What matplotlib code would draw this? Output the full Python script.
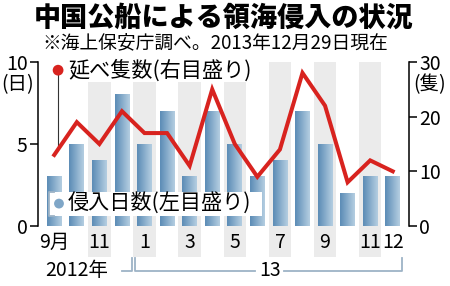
import numpy as np
import matplotlib
matplotlib.use('Agg')
import matplotlib.pyplot as plt
import matplotlib.transforms as mtransforms
from matplotlib.colors import LinearSegmentedColormap
from matplotlib.patches import Rectangle

plt.rcParams['font.family'] = ['Noto Sans CJK JP', 'DejaVu Sans']

# data (Sep 2012 - Dec 2013)
months = list(range(16))
days = [3, 5, 4, 8, 5, 7, 3, 7, 5, 3, 4, 7, 5, 2, 3, 3]          # 侵入日数 (left)
ships = [13, 19, 15, 21, 17, 17, 11, 25, 15, 9, 14, 28, 22, 8, 12, 10]  # 延べ隻数 (right)
tick_pos = [0, 2, 4, 6, 8, 10, 12, 14, 15]
tick_labels = ['9月', '11', '1', '3', '5', '7', '9', '11', '12']
band_pos = [2, 4, 6, 8, 10, 12, 14]

red = '#d8231f'
bracket_col = '#9db3c6'
lbl = 14

fig = plt.figure(figsize=(4.5, 2.86), dpi=100)
ax = fig.add_axes([38 / 450, 60 / 286, 371 / 450, 164 / 286])
ax2 = ax.twinx()

trans = mtransforms.blended_transform_factory(ax.transData, ax.transAxes)

# grey bands behind odd months
for b in band_pos:
    ax.add_patch(Rectangle((b - 0.5, -0.19), 1.0, 1.19, transform=trans,
                           facecolor='#ebebeb', edgecolor='none', zorder=0, clip_on=False))

# bars with horizontal gradient
cmap = LinearSegmentedColormap.from_list('bar', ['#5c8cb6', '#b4cee1'])
grad = np.linspace(0, 1, 50).reshape(1, -1)
w = 0.65
for m, d in zip(months, days):
    ax.imshow(grad, cmap=cmap, aspect='auto', extent=(m - w / 2, m + w / 2, 0, d),
              zorder=2, interpolation='bicubic')

ax.set_xlim(-0.72, 15.72)
ax.set_ylim(0, 10)
ax.set_yticks([0, 5, 10])
ax.set_xticks(tick_pos)
ax.set_xticklabels(tick_labels)
ax.tick_params(axis='x', length=0, pad=4, labelsize=lbl)
ax.tick_params(axis='y', direction='out', length=6, width=1.1, pad=1.5, labelsize=lbl)
for s in ['top', 'right', 'bottom']:
    ax.spines[s].set_visible(False)
ax.spines['left'].set_linewidth(1.1)

# red line on right axis
ax2.plot(months, ships, color=red, lw=2.9, zorder=3, solid_joinstyle='miter')
ax2.set_ylim(0, 30)
ax2.set_yticks([0, 10, 20, 30])
ax2.tick_params(axis='y', direction='out', length=6, width=1.1, pad=1.5, labelsize=lbl)
for s in ['top', 'left', 'bottom']:
    ax2.spines[s].set_visible(False)
ax2.spines['right'].set_linewidth(1.1)

# unit labels
fig.text(18 / 450, 1 - 85 / 286, '(日)', ha='center', va='center', fontsize=lbl)
fig.text(430 / 450, 1 - 85 / 286, '(隻)', ha='center', va='center', fontsize=lbl)

# red legend
ax2.plot([0.17, 0.17], [28.5, 14.0], color='#333333', lw=0.8, zorder=2)
ax2.scatter([0.17], [28.5], s=60, color=red, zorder=4, edgecolors='none')
ax2.text(0.6, 28.5, '延べ隻数(右目盛り)', va='center', ha='left', fontsize=15.2, zorder=4,
         bbox=dict(facecolor='white', edgecolor='none', pad=0.5))

# blue legend box
ax2.add_patch(Rectangle((-0.23, 1.83), 9.45, 4.4, facecolor='white', edgecolor='none', zorder=1))
ax2.plot([0.0, -0.23, -0.23, 0.0], [6.2, 6.2, 1.83, 1.83], color=bracket_col, lw=1.3, zorder=1.5)
ax2.scatter([0.21], [4.1], s=50, color='#7fa6c7', zorder=4, edgecolors='none')
ax2.text(0.6, 4.0, '侵入日数(左目盛り)', va='center', ha='left', fontsize=15.2, zorder=4)

# year labels and brackets
ax.text(1.0, -0.274, '2012年', transform=trans, ha='center', va='center', fontsize=lbl, clip_on=False)
ax.text(9.56, -0.274, '13', transform=trans, ha='center', va='center', fontsize=lbl, clip_on=False)
ax.plot([3.0, 3.44, 3.44], [-0.274, -0.274, -0.195], transform=trans, color=bracket_col,
        lw=1.3, clip_on=False)
ax.plot([3.58, 3.58, 8.9], [-0.195, -0.274, -0.274], transform=trans, color=bracket_col,
        lw=1.3, clip_on=False)
ax.plot([10.2, 15.41, 15.41], [-0.274, -0.274, -0.195], transform=trans, color=bracket_col,
        lw=1.3, clip_on=False)

# titles
fig.text(0.498, 1 - 17 / 286, '中国公船による領海侵入の状況', ha='center', va='center',
         fontsize=19.5, fontweight='heavy')
fig.text(42 / 450, 1 - 43 / 286, '※海上保安庁調べ。2013年12月29日現在', ha='left', va='center',
         fontsize=13.5)

fig.savefig('out.png', dpi=100)
